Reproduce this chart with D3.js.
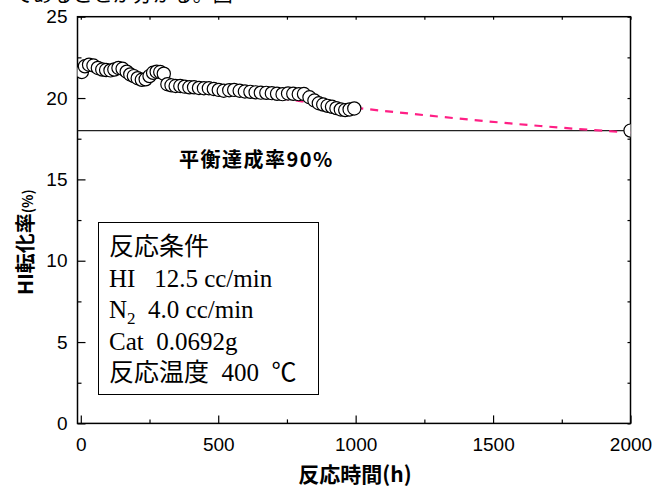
<!DOCTYPE html>
<html>
<head>
<meta charset="utf-8">
<script src="https://cdn.jsdelivr.net/npm/d3@7"></script>
<style>
  body { margin: 0; background: #fff; }
  svg { display: block; }
  .tick text { font-family: "Liberation Sans", Arial, sans-serif; font-size: 19px; fill: #000; }
  .domain { display: none; }
  .tick line { stroke: #000; stroke-width: 1.2; }
</style>
</head>
<body>
<svg id="chart" width="655" height="488"></svg>
<script>
// measured run: reaction time (h) and HI conversion (%)
var hours = [4, 15, 30, 46, 62, 78, 92, 108, 122, 137, 152, 167, 180, 193, 207, 222, 236, 250,
  263, 276, 289, 302, 315, 330, 345, 362, 378, 395, 412, 430, 448, 466, 484, 502, 520, 540,
  558, 578, 597, 617, 636, 655, 675, 695, 714, 734, 754, 773, 793, 812, 832, 850, 866, 882,
  898, 914, 930, 946, 962, 978, 995, 2000];
var conversion = [21.6, 21.95, 22.05, 22.0, 21.85, 21.75, 21.72, 21.7, 21.75, 21.85, 21.8, 21.62,
  21.45, 21.35, 21.22, 21.12, 21.15, 21.35, 21.55, 21.62, 21.6, 21.5, 20.85, 20.78, 20.74, 20.74,
  20.7, 20.66, 20.66, 20.62, 20.6, 20.6, 20.56, 20.5, 20.45, 20.48, 20.5, 20.45, 20.4, 20.38,
  20.35, 20.33, 20.32, 20.3, 20.26, 20.24, 20.28, 20.26, 20.24, 20.25, 20.05, 19.85, 19.68,
  19.6, 19.52, 19.46, 19.38, 19.3, 19.26, 19.3, 19.36, 18.0];

// extrapolated trend (pink dashed)
var trendHours = [350, 586, 805, 1017, 1308, 1672, 2000];
var trendValues = [20.92, 20.33, 19.8, 19.37, 18.85, 18.28, 17.87];

// equilibrium limit line
var equilibrium = 18;
var equilibriumLabel = "平衡達成率90%";

var xTicks = [0, 500, 1000, 1500, 2000];
var xMinor = [250, 750, 1250, 1750];
var yTicks = [0, 5, 10, 15, 20, 25];
var yMinor = [2.5, 7.5, 12.5, 17.5, 22.5];

var xTitle = "反応時間(h)";
var yTitle = "HI転化率";
var yUnit = "(%)";

var conditionLines = ["反応条件", "HI   12.5 cc/min", "N|2|  4.0 cc/min", "Cat  0.0692g", "反応温度  400  ℃"];

// cut-off line of body text above the figure
var pageText = "であることが分かる。図";

var svg = d3.select("#chart");

var x = d3.scaleLinear().domain([-12, 2000]).range([77.5, 630.5]);
var y = d3.scaleLinear().domain([0, 25]).range([423.4, 16.7]);

var plotLeft = x.range()[0], plotRight = x.range()[1];
var plotTop = y.range()[1], plotBottom = y.range()[0];

svg.append("text")
  .attr("x", 13)
  .attr("y", 2)
  .attr("font-family", "'Noto Sans CJK JP', serif")
  .attr("font-size", 20)
  .text(pageText);

svg.append("clipPath").attr("id", "plot")
  .append("rect")
  .attr("x", plotLeft).attr("y", plotTop)
  .attr("width", plotRight - plotLeft).attr("height", plotBottom - plotTop);

// axes (ticks point inward)
svg.append("g")
  .attr("transform", "translate(0," + plotBottom + ")")
  .call(d3.axisBottom(x).tickValues(xTicks).tickSize(-8).tickPadding(14).tickFormat(d3.format("d")));
svg.append("g")
  .attr("transform", "translate(0," + plotBottom + ")")
  .call(d3.axisBottom(x).tickValues(xMinor).tickSize(-4).tickFormat(""));
svg.append("g")
  .attr("transform", "translate(0," + plotTop + ")")
  .call(d3.axisTop(x).tickValues(xTicks.concat(xMinor)).tickSize(-3).tickFormat(""));

svg.append("g")
  .attr("transform", "translate(" + plotLeft + ",0)")
  .call(d3.axisLeft(y).tickValues(yTicks).tickSize(-8).tickPadding(10));
svg.append("g")
  .attr("transform", "translate(" + plotLeft + ",0)")
  .call(d3.axisLeft(y).tickValues(yMinor).tickSize(-4).tickFormat(""));
svg.append("g")
  .attr("transform", "translate(" + plotRight + ",0)")
  .call(d3.axisRight(y).tickValues(yTicks.concat(yMinor)).tickSize(-3).tickFormat(""));

// frame
svg.append("rect")
  .attr("x", plotLeft).attr("y", plotTop)
  .attr("width", plotRight - plotLeft).attr("height", plotBottom - plotTop)
  .attr("fill", "none")
  .attr("stroke", "#000")
  .attr("stroke-width", 1.5);

var plot = svg.append("g").attr("clip-path", "url(#plot)");

plot.append("line")
  .attr("x1", plotLeft).attr("x2", plotRight)
  .attr("y1", y(equilibrium)).attr("y2", y(equilibrium))
  .attr("stroke", "#222")
  .attr("stroke-width", 1.3);

var trendLine = d3.line()
  .x(function (d) { return x(d[0]); })
  .y(function (d) { return y(d[1]); })
  .curve(d3.curveMonotoneX);

plot.append("path")
  .datum(d3.zip(trendHours, trendValues))
  .attr("d", trendLine)
  .attr("fill", "none")
  .attr("stroke", "#ff1f85")
  .attr("stroke-width", 2.2)
  .attr("stroke-dasharray", "8,7");

plot.selectAll("circle.pt")
  .data(d3.zip(hours, conversion))
  .enter().append("circle")
  .attr("class", "pt")
  .attr("cx", function (d) { return x(d[0]); })
  .attr("cy", function (d) { return y(d[1]); })
  .attr("r", 6.6)
  .attr("fill", "#fff")
  .attr("stroke", "#000")
  .attr("stroke-width", 1.2);

svg.append("text")
  .attr("x", 179)
  .attr("y", y(equilibrium) + 36)
  .attr("font-family", "'Noto Sans CJK JP', sans-serif")
  .attr("font-size", 20)
  .attr("font-weight", "bold")
  .attr("letter-spacing", 1.5)
  .text(equilibriumLabel);

// axis titles
svg.append("text")
  .attr("x", 355)
  .attr("y", 482)
  .attr("text-anchor", "middle")
  .attr("font-family", "'Noto Sans CJK JP', sans-serif")
  .attr("font-size", 21)
  .attr("font-weight", "bold")
  .text(xTitle);

var yt = svg.append("text")
  .attr("transform", "translate(33,242) rotate(-90)")
  .attr("text-anchor", "middle")
  .attr("font-family", "'Noto Sans CJK JP', sans-serif")
  .attr("font-weight", "bold")
  .attr("font-size", 20);
yt.append("tspan").text(yTitle);
yt.append("tspan").attr("font-size", 14).text(yUnit);

// conditions box
svg.append("rect")
  .attr("x", 98.5).attr("y", 222.5)
  .attr("width", 220).attr("height", 172)
  .attr("fill", "#fff")
  .attr("stroke", "#000")
  .attr("stroke-width", 1);

var box = svg.append("g")
  .attr("font-family", "'Liberation Serif', 'Noto Sans CJK JP', serif")
  .attr("font-size", 25);

conditionLines.forEach(function (line, i) {
  var t = box.append("text")
    .attr("x", 109)
    .attr("y", 255 + i * 31.6)
    .style("white-space", "pre");
  var parts = line.split("|");
  t.append("tspan").text(parts[0]);
  if (parts.length > 1) {
    t.append("tspan").attr("font-size", 17).attr("dy", 6).text(parts[1]);
    t.append("tspan").attr("dy", -6).text(parts[2]);
  }
});
</script>
</body>
</html>
